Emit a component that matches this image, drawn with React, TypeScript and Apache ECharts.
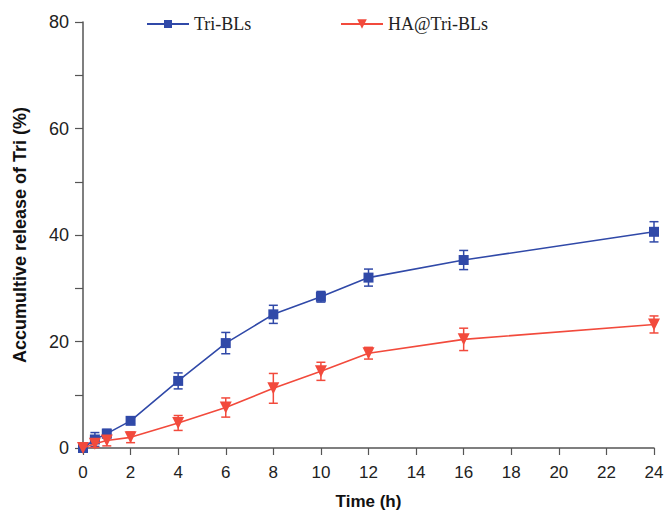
import React, { useEffect, useRef } from "react";
import * as echarts from "echarts";

const times = [0, 0.5, 1, 2, 4, 6, 8, 10, 12, 16, 24];
const triBLs = [0, 1.6, 2.7, 5.1, 12.6, 19.7, 25.1, 28.4, 32.0, 35.3, 40.6];
const triBLsErr = [0, 1.3, 0.8, 0.5, 1.5, 2.0, 1.7, 1.0, 1.6, 1.8, 1.9];
const haTriBLs = [0, 0.8, 1.4, 2.0, 4.7, 7.6, 11.2, 14.4, 17.8, 20.4, 23.2];
const haTriBLsErr = [0, 0.7, 1.0, 1.0, 1.4, 1.8, 2.8, 1.7, 1.1, 2.1, 1.6];

const BLUE = "#3049a8";
const RED = "#f24a3c";

function errData(vals: number[], errs: number[]) {
  return times.map((t, i) => [t, vals[i] - errs[i], vals[i] + errs[i]]);
}

function errSeries(vals: number[], errs: number[], color: string) {
  return {
    type: "custom",
    data: errData(vals, errs).filter((d) => d[2] - d[1] > 0),
    z: 1,
    renderItem: (params: any, api: any) => {
      const x = api.value(0);
      const lo = api.coord([x, api.value(1)]);
      const hi = api.coord([x, api.value(2)]);
      const hw = 4.5;
      const style = { stroke: color, lineWidth: 1.5 };
      return {
        type: "group",
        children: [
          { type: "line", shape: { x1: lo[0], y1: lo[1], x2: hi[0], y2: hi[1] }, style },
          { type: "line", shape: { x1: lo[0] - hw, y1: lo[1], x2: lo[0] + hw, y2: lo[1] }, style },
          { type: "line", shape: { x1: hi[0] - hw, y1: hi[1], x2: hi[0] + hw, y2: hi[1] }, style },
        ],
      };
    },
  };
}

export default function App() {
  const ref = useRef<HTMLDivElement>(null);
  useEffect(() => {
    const chart = echarts.init(ref.current!, null, { renderer: "svg" });
    const axisLine = { lineStyle: { color: "#555", width: 1.5 } };
    const legendText = { fontFamily: "Liberation Serif", fontSize: 18, color: "#222" };
    chart.setOption({
      animation: false,
      grid: { left: 83, right: 14, top: 22, bottom: 67 },
      legend: [
        { data: ["Tri-BLs"], left: 141, top: 10, itemWidth: 42, itemHeight: 10, textStyle: legendText },
        { data: ["HA@Tri-BLs"], left: 335, top: 10, itemWidth: 42, itemHeight: 12, textStyle: legendText },
      ],
      xAxis: {
        type: "value",
        min: 0,
        max: 24,
        interval: 2,
        name: "Time (h)",
        nameLocation: "middle",
        nameGap: 45,
        nameTextStyle: { fontFamily: "Liberation Sans", fontWeight: "bold", fontSize: 17, color: "#111" },
        axisLine: { show: true, ...axisLine },
        axisTick: { show: true, inside: false, length: 7, lineStyle: { color: "#555", width: 1.2 } },
        axisLabel: { fontFamily: "Liberation Sans", fontSize: 17, color: "#222", margin: 16 },
        splitLine: { show: false },
      },
      yAxis: {
        type: "value",
        min: 0,
        max: 80,
        interval: 10,
        name: "Accumultive release of Tri (%)",
        nameLocation: "middle",
        nameGap: 54,
        nameTextStyle: { fontFamily: "Liberation Sans", fontWeight: "bold", fontSize: 18, color: "#111" },
        axisLine: { show: true, ...axisLine },
        axisTick: { show: true, inside: false, length: 8, lineStyle: { color: "#555", width: 1.2 } },
        axisLabel: {
          fontFamily: "Liberation Sans",
          fontSize: 18,
          color: "#222",
          margin: 14,
          formatter: (v: number) => (v % 20 === 0 ? String(v) : ""),
        },
        splitLine: { show: false },
      },
      series: [
        errSeries(triBLs, triBLsErr, BLUE),
        errSeries(haTriBLs, haTriBLsErr, RED),
        {
          name: "Tri-BLs",
          type: "line",
          data: times.map((t, i) => [t, triBLs[i]]),
          symbol: "rect",
          symbolSize: 10,
          color: BLUE,
          lineStyle: { color: BLUE, width: 1.6 },
          itemStyle: { color: BLUE },
          z: 2,
        },
        {
          name: "HA@Tri-BLs",
          type: "line",
          data: times.map((t, i) => [t, haTriBLs[i]]),
          symbol: "triangle",
          symbolRotate: 180,
          symbolSize: 12,
          color: RED,
          lineStyle: { color: RED, width: 1.6 },
          itemStyle: { color: RED },
          z: 3,
        },
      ],
    });
    return () => chart.dispose();
  }, []);
  return (
    <div
      ref={ref}
      style={{ position: "absolute", left: 0, top: 0, width: 668, height: 515 }}
    />
  );
}
